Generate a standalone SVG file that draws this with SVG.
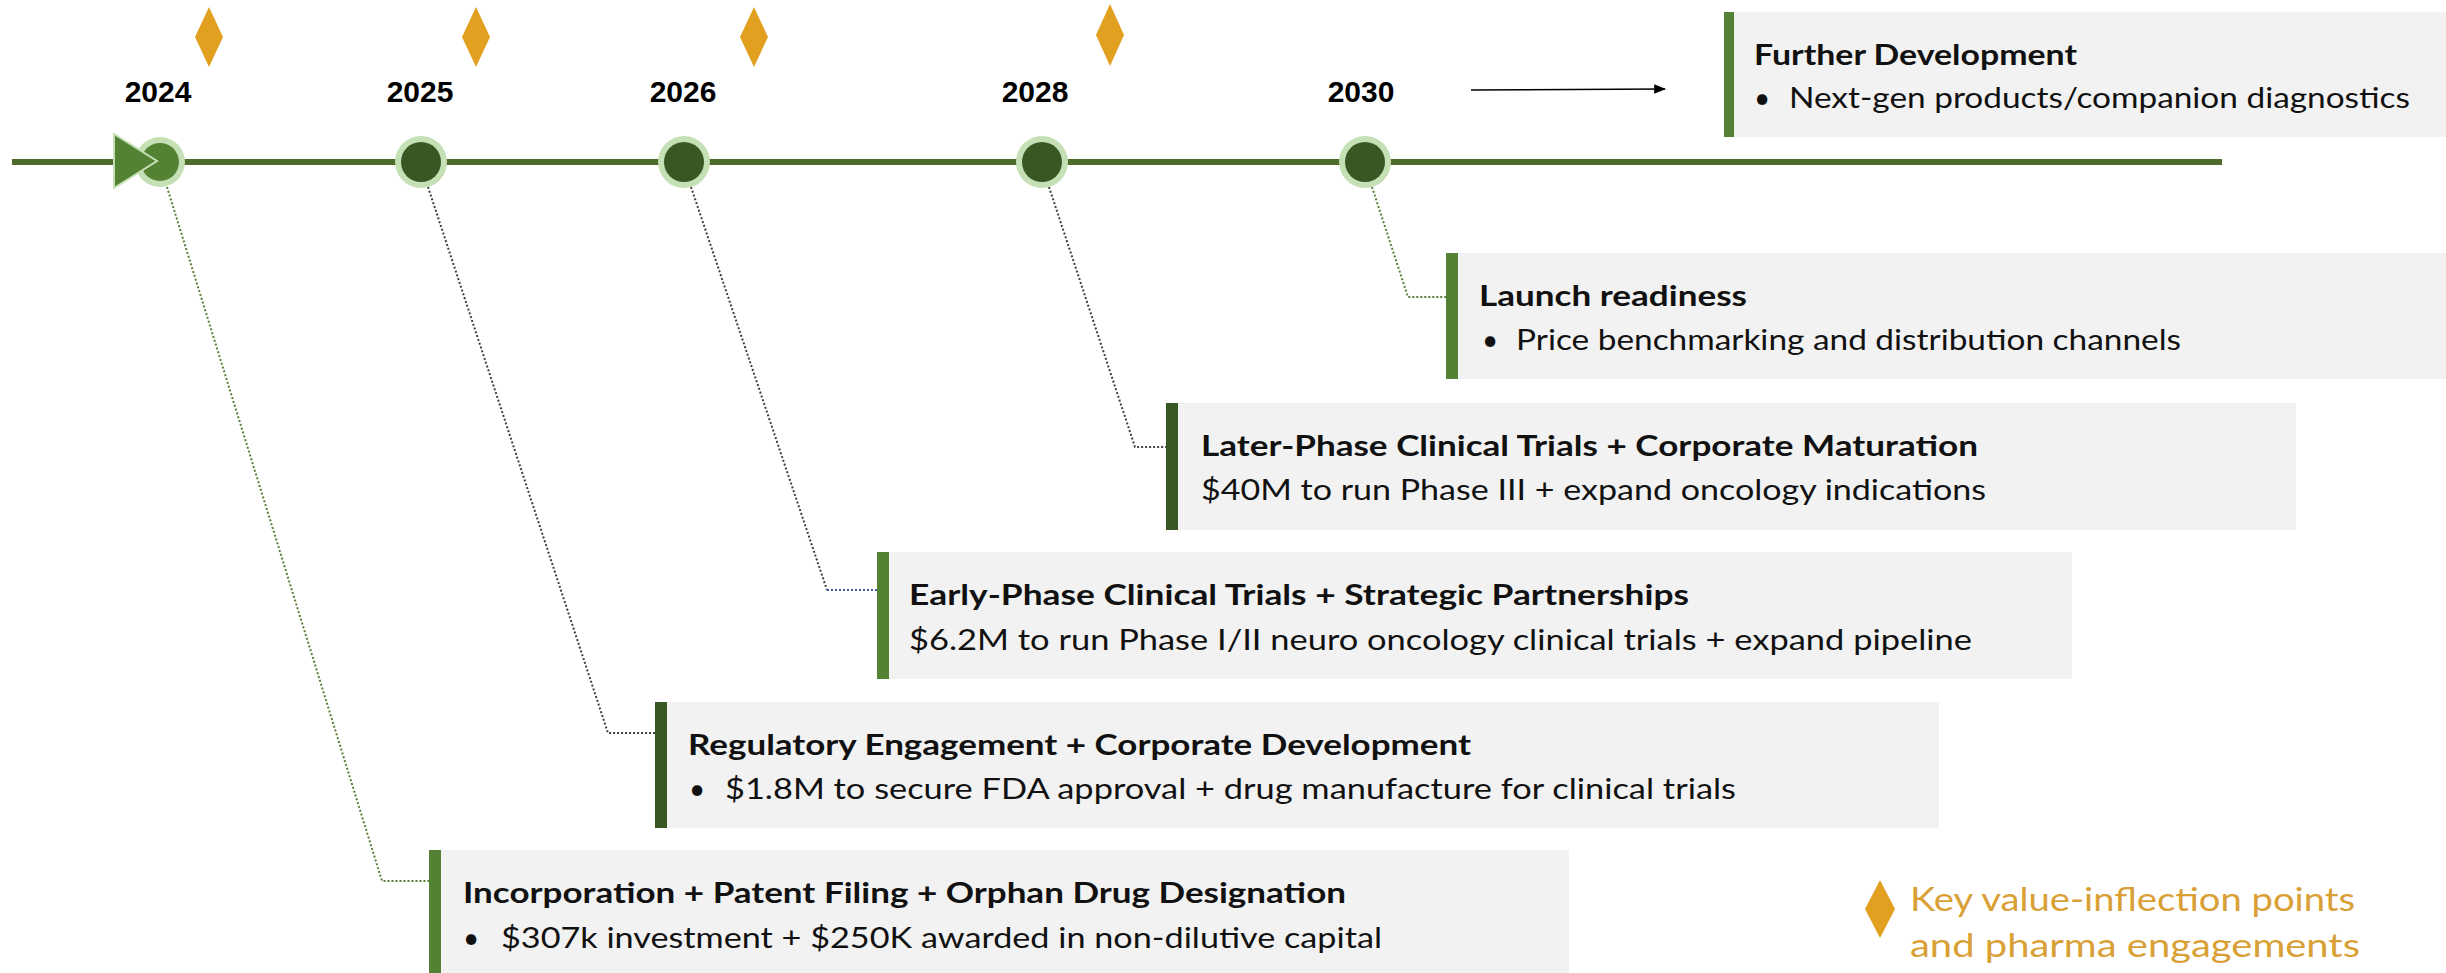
<svg xmlns="http://www.w3.org/2000/svg" width="2446" height="973" viewBox="0 0 2446 973">
<style>
.yr{font-family:"Liberation Sans",Arial,sans-serif;font-weight:bold;font-size:30px;fill:#000;text-anchor:middle}
.ttl{font-family:Lato,"Open Sans",sans-serif;font-weight:bold;font-size:28px;fill:#111}
.bd{font-family:Lato,"Open Sans",sans-serif;font-size:28px;fill:#111}
.lg{font-family:Lato,"Open Sans",sans-serif;font-size:33px;fill:#D9A036}
.box{fill:#F2F2F2}
.barL{fill:#548235}
.barD{fill:#385723}
.ring{fill:#C5E0B4}
.dot{fill:#385723}
.dia{fill:#E2A020}
.conn{fill:none;stroke-width:2;stroke-dasharray:2 2}
</style>
<defs>
<marker id="ah" viewBox="0 0 10 10" refX="9" refY="5" markerWidth="12" markerHeight="12" markerUnits="userSpaceOnUse" orient="auto">
<path d="M0,1 L10,5 L0,9 Z" fill="#000"/>
</marker>
</defs>
<rect width="2446" height="973" fill="#fff"/>

<g id="diamonds">
<polygon class="dia" points="209,7 223,37 209,67 195,37"/>
<polygon class="dia" points="476,7 490,37 476,67 462,37"/>
<polygon class="dia" points="754,7 768,37 754,67 740,37"/>
<polygon class="dia" points="1110,4 1124,35 1110,66 1096,35"/>
</g>

<g id="years">
<text class="yr" x="158" y="102">2024</text>
<text class="yr" x="420" y="102">2025</text>
<text class="yr" x="683" y="102">2026</text>
<text class="yr" x="1035" y="102">2028</text>
<text class="yr" x="1361" y="102">2030</text>
</g>

<g id="connectors">
<line x1="12" y1="162" x2="2222" y2="162" stroke="#4E6B2C" stroke-width="6"/>
<line x1="1471" y1="90" x2="1665" y2="89" stroke="#000" stroke-width="1.6" marker-end="url(#ah)"/>
<polyline class="conn" stroke="#5B7F3A" points="167,187 382,881 429,881"/>
<polyline class="conn" stroke="#404040" points="428,187 608,733 655,733"/>
<polyline class="conn" stroke="#404040" points="691,187 827,590"/>
<line class="conn" stroke="#3A5FA8" x1="827" y1="590" x2="877" y2="590"/>
<polyline class="conn" stroke="#404040" points="1049,187 1135,447 1166,447"/>
<polyline class="conn" stroke="#5B7F3A" points="1372,187 1408,297 1446,297"/>
</g>

<g id="milestones">
<g id="m2024">
<circle class="ring" cx="160" cy="162" r="25"/>
<circle cx="160" cy="162" r="19" fill="#548235"/>
<polygon points="114,134 157,161 114,188" fill="#548235" stroke="#C5E0B4" stroke-width="2"/>
</g>
<g id="m2025"><circle class="ring" cx="421" cy="162" r="26"/><circle class="dot" cx="421" cy="162" r="20"/></g>
<g id="m2026"><circle class="ring" cx="684" cy="162" r="26"/><circle class="dot" cx="684" cy="162" r="20"/></g>
<g id="m2028"><circle class="ring" cx="1042" cy="162" r="26"/><circle class="dot" cx="1042" cy="162" r="20"/></g>
<g id="m2030"><circle class="ring" cx="1365" cy="162" r="26"/><circle class="dot" cx="1365" cy="162" r="20"/></g>
</g>

<g id="further">
<rect class="box" x="1724" y="12" width="722" height="125"/>
<rect class="barL" x="1724" y="12" width="10" height="125"/>
<text class="ttl" x="1754" y="65" textLength="323" lengthAdjust="spacingAndGlyphs">Further Development</text>
<text class="bd" x="1754" y="108">•</text>
<text class="bd" x="1789" y="108" textLength="621" lengthAdjust="spacingAndGlyphs">Next-gen products/companion diagnostics</text>
</g>

<g id="launch">
<rect class="box" x="1446" y="253" width="1000" height="126"/>
<rect class="barL" x="1446" y="253" width="12" height="126"/>
<text class="ttl" x="1479" y="306" textLength="268" lengthAdjust="spacingAndGlyphs">Launch readiness</text>
<text class="bd" x="1482" y="350">•</text>
<text class="bd" x="1516" y="350" textLength="665" lengthAdjust="spacingAndGlyphs">Price benchmarking and distribution channels</text>
</g>

<g id="later">
<rect class="box" x="1166" y="403" width="1130" height="127"/>
<rect class="barD" x="1166" y="403" width="12" height="127"/>
<text class="ttl" x="1201" y="456" textLength="777" lengthAdjust="spacingAndGlyphs">Later-Phase Clinical Trials + Corporate Maturation</text>
<text class="bd" x="1201" y="500" textLength="785" lengthAdjust="spacingAndGlyphs">$40M to run Phase III + expand oncology indications</text>
</g>

<g id="early">
<rect class="box" x="877" y="552" width="1195" height="127"/>
<rect class="barL" x="877" y="552" width="12" height="127"/>
<text class="ttl" x="909" y="605" textLength="780" lengthAdjust="spacingAndGlyphs">Early-Phase Clinical Trials + Strategic Partnerships</text>
<text class="bd" x="909" y="650" textLength="1063" lengthAdjust="spacingAndGlyphs">$6.2M to run Phase I/II neuro oncology clinical trials + expand pipeline</text>
</g>

<g id="regulatory">
<rect class="box" x="655" y="702" width="1284" height="126"/>
<rect class="barD" x="655" y="702" width="12" height="126"/>
<text class="ttl" x="688" y="755" textLength="783" lengthAdjust="spacingAndGlyphs">Regulatory Engagement + Corporate Development</text>
<text class="bd" x="689" y="799">•</text>
<text class="bd" x="725" y="799" textLength="1011" lengthAdjust="spacingAndGlyphs">$1.8M to secure FDA approval + drug manufacture for clinical trials</text>
</g>

<g id="incorporation">
<rect class="box" x="429" y="850" width="1140" height="123"/>
<rect class="barL" x="429" y="850" width="12" height="123"/>
<text class="ttl" x="463" y="903" textLength="883" lengthAdjust="spacingAndGlyphs">Incorporation + Patent Filing + Orphan Drug Designation</text>
<text class="bd" x="463" y="948">•</text>
<text class="bd" x="501" y="948" textLength="881" lengthAdjust="spacingAndGlyphs">$307k investment + $250K awarded in non-dilutive capital</text>
</g>

<g id="legend">
<polygon class="dia" points="1880,880 1895,909 1880,938 1865,909"/>
<text class="lg" x="1910" y="911" textLength="445" lengthAdjust="spacingAndGlyphs">Key value-inflection points</text>
<text class="lg" x="1910" y="957" textLength="450" lengthAdjust="spacingAndGlyphs">and pharma engagements</text>
</g>
</svg>
